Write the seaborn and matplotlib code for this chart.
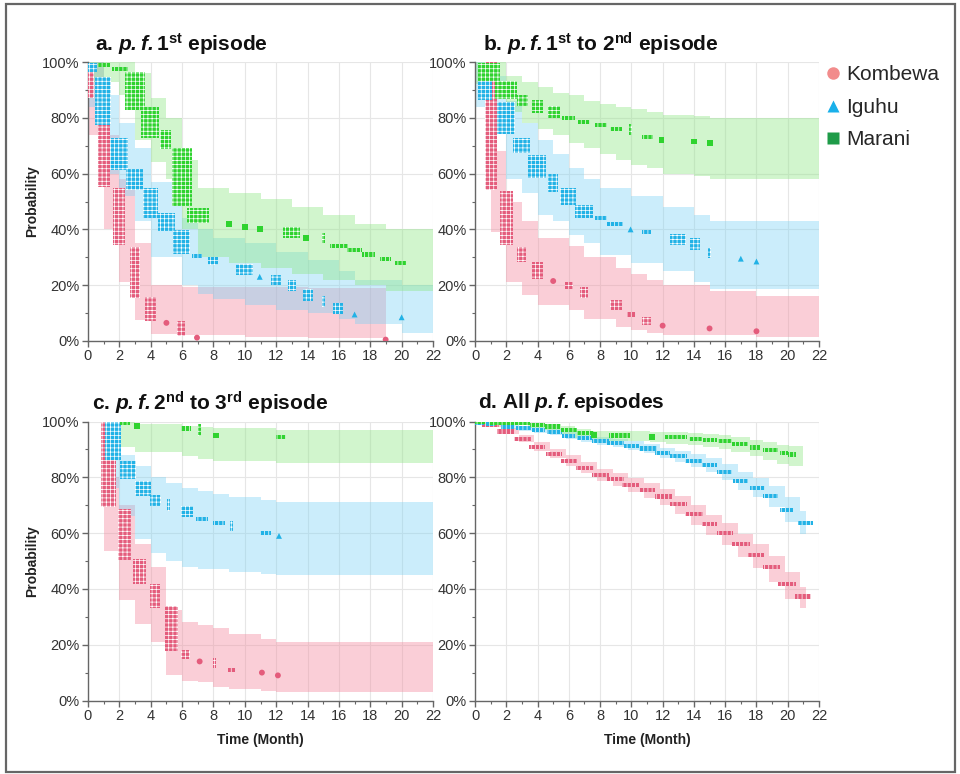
import matplotlib
matplotlib.use("Agg")
import matplotlib.pyplot as plt
import numpy as np
import pandas as pd
import seaborn as sns
from matplotlib.patches import Rectangle
from matplotlib.lines import Line2D
from matplotlib.ticker import MultipleLocator, FixedLocator, FixedFormatter

# ---------------- data ----------------
SITES = ["Kombewa", "Iguhu", "Marani"]
PANEL_TITLES = [
    r"a. $\mathbfit{p.f.}$$\mathbf{1^{st}}$ episode",
    r"b. $\mathbfit{p.f.}$$\mathbf{1^{st}}$ to $\mathbf{2^{nd}}$ episode",
    r"c. $\mathbfit{p.f.}$$\mathbf{2^{nd}}$ to $\mathbf{3^{rd}}$ episode",
    r"d. All $\mathbfit{p.f.}$episodes",
]
X_TICKS = [0, 2, 4, 6, 8, 10, 12, 14, 16, 18, 20, 22]
Y_TICKS = [0, 20, 40, 60, 80, 100]
Y_TICK_LABELS = ["0%", "20%", "40%", "60%", "80%", "100%"]
X_LABEL = "Time (Month)"
Y_LABEL = "Probability"

# marker clusters: (time start, time end, survival high %, survival low %)
A_KOMBEWA = [(0.0, 0.3, 99, 88), (0.74, 1.28, 86, 56), (1.70, 2.23, 54, 35), (2.76, 3.19, 33, 16),
             (3.72, 4.25, 15, 8), (5.0, 5.0, 6.5, 6.5), (5.8, 6.1, 6.5, 2.5), (6.95, 6.95, 1.2, 1.2),
             (18.98, 18.98, 0.5, 0.5)]
A_IGUHU = [(0.13, 0.45, 99, 97), (0.53, 1.38, 94, 78), (1.49, 2.44, 72, 62), (2.55, 3.40, 61, 55),
           (3.61, 4.36, 54, 45), (4.57, 5.42, 45, 40), (5.53, 6.38, 39, 32), (6.7, 7.2, 30.5, 30.5),
           (7.75, 8.2, 29.5, 28), (9.56, 10.4, 27, 24.5), (10.95, 10.95, 23, 23), (11.8, 12.2, 23, 21),
           (12.86, 13.18, 21, 18.5), (13.8, 14.24, 18, 15), (15.0, 15.0, 15.5, 13), (15.7, 16.15, 13, 10.5),
           (17.0, 17.0, 9.5, 9.5), (20.0, 20.0, 8.5, 8.5)]
A_MARANI = [(0.74, 1.28, 99, 99), (1.6, 2.44, 97.5, 97.5), (2.44, 3.55, 95.5, 83.5), (3.45, 4.45, 83, 73.5),
            (4.7, 5.2, 75, 69.5), (5.45, 6.55, 68.5, 49), (6.4, 7.6, 47, 43), (9.0, 9.0, 42, 42),
            (10.0, 10.0, 41, 41), (10.95, 10.95, 40, 40), (12.54, 13.39, 40, 37.5), (13.92, 13.92, 37, 37),
            (15.0, 15.0, 38, 36), (15.5, 16.5, 34, 34), (16.6, 17.4, 32.5, 32.5), (17.6, 18.2, 31, 31),
            (18.7, 19.2, 29.5, 29.5), (19.7, 20.2, 28, 28)]

B_KOMBEWA = [(0.75, 1.28, 100, 55), (1.70, 2.34, 53, 35), (2.77, 3.19, 33, 29), (3.73, 4.26, 27.5, 23),
             (5.0, 5.0, 21.5, 21.5), (5.86, 6.18, 20.5, 19.5), (6.82, 7.14, 18.5, 16), (8.73, 9.27, 14, 12),
             (9.8, 10.22, 9.5, 9.5), (10.8, 11.14, 8, 6.5), (12.0, 12.0, 5.5, 5.5), (15.0, 15.0, 4.5, 4.5),
             (18.0, 18.0, 3.5, 3.5)]
B_IGUHU = [(0.32, 0.96, 98, 87), (1.49, 2.45, 85, 75), (2.56, 3.41, 72, 68), (3.51, 4.47, 66, 59),
           (4.79, 5.22, 59, 54), (5.54, 6.39, 54, 49.5), (6.5, 7.45, 48, 45), (7.77, 8.31, 44, 44),
           (8.52, 9.37, 42, 42), (9.95, 9.95, 40, 40), (10.76, 11.18, 39, 39), (12.57, 13.42, 37.5, 35),
           (13.84, 14.27, 36, 33.5), (14.97, 14.97, 32.5, 30.5), (17.0, 17.0, 29.5, 29.5), (18.0, 18.0, 28.5, 28.5)]
B_MARANI = [(0.32, 1.49, 99, 94), (1.38, 2.56, 92.5, 87.5), (2.77, 3.30, 87.5, 85), (3.73, 4.26, 85.5, 82.5),
            (4.79, 5.32, 83.5, 80.5), (5.64, 6.28, 80, 80), (6.71, 7.24, 78.5, 78.5), (7.77, 8.31, 77.5, 77.5),
            (8.73, 9.27, 76, 76), (9.95, 9.95, 77, 74.5), (10.76, 11.29, 73, 73), (11.93, 11.93, 72, 72),
            (13.99, 13.99, 71.5, 71.5), (15.02, 15.02, 71, 71)]

C_KOMBEWA = [(0.96, 1.70, 100, 70), (2.02, 2.66, 68, 51), (2.98, 3.61, 50, 42.5), (4.04, 4.46, 41, 34),
             (5.0, 5.63, 33, 18.5), (6.01, 6.38, 17.5, 15.5), (7.12, 7.12, 14, 14), (8.08, 8.08, 14.5, 12.5),
             (9.03, 9.35, 11, 11), (11.09, 11.09, 10, 10), (12.11, 12.11, 9, 9)]
C_IGUHU = [(1.17, 2.02, 99, 87), (2.13, 2.98, 85, 80), (3.08, 3.93, 78, 74), (4.04, 4.57, 73, 70.5),
           (5.16, 5.16, 71.5, 68.5), (6.06, 6.59, 69, 66.5), (7.01, 7.54, 65, 65), (8.08, 8.61, 63.5, 63.5),
           (9.14, 9.14, 63.5, 61.5), (11.05, 11.58, 60, 60), (12.18, 12.18, 59, 59)]
C_MARANI = [(2.13, 2.55, 99.5, 99.5), (3.12, 3.12, 98.5, 98.5), (6.06, 6.48, 97.5, 97.5),
            (7.12, 7.12, 98.5, 95.5), (8.14, 8.14, 95, 95), (12.11, 12.54, 94.5, 94.5)]

D_KOMBEWA = [(0.0, 0.5, 99.7, 99.7), (0.57, 1.43, 98.6, 98.6), (1.53, 2.38, 96.4, 96.4), (2.6, 3.45, 93.8, 93.8),
             (3.55, 4.4, 91.0, 91.0), (4.62, 5.47, 88.4, 88.4), (5.57, 6.43, 85.9, 85.9), (6.53, 7.49, 83.4, 83.4),
             (7.6, 8.45, 80.8, 80.8), (8.55, 9.4, 79.3, 79.3), (9.51, 10.47, 77.1, 77.1), (10.57, 11.42, 75.5, 75.5),
             (11.63, 12.48, 73.1, 73.1), (12.59, 13.44, 70.4, 70.4), (13.55, 14.5, 66.8, 66.8),
             (14.6, 15.35, 63.2, 63.2), (15.56, 16.42, 60.0, 60.0), (16.52, 17.47, 56.2, 56.2),
             (17.58, 18.43, 52.2, 52.2), (18.54, 19.39, 47.8, 47.8), (19.5, 20.45, 41.8, 41.8),
             (20.56, 21.41, 37.3, 37.3)]
D_IGUHU = [(0.0, 0.5, 99.5, 99.5), (0.79, 1.21, 99.2, 99.2), (1.74, 2.38, 98.2, 98.2), (2.7, 3.45, 97.6, 97.6),
           (3.77, 4.4, 97.0, 97.0), (4.72, 5.47, 96.2, 96.2), (5.68, 6.32, 94.9, 94.9), (6.64, 7.38, 94.0, 94.0),
           (7.6, 8.45, 93.0, 93.0), (8.55, 9.4, 92.2, 92.2), (9.62, 10.36, 91.3, 91.3), (10.57, 11.52, 90.3, 90.3),
           (11.63, 12.37, 88.7, 88.7), (12.59, 13.44, 87.5, 87.5), (13.55, 14.39, 85.9, 85.9),
           (14.6, 15.35, 84.5, 84.5), (15.56, 16.31, 81.9, 81.9), (16.63, 17.37, 78.8, 78.8),
           (17.69, 18.43, 76.2, 76.2), (18.54, 19.29, 73.2, 73.2), (19.6, 20.24, 68.4, 68.4),
           (20.77, 21.52, 63.6, 63.6)]
D_MARANI = [(0.0, 0.6, 100, 100), (1.0, 1.7, 99.6, 99.6), (1.8, 3.4, 99.4, 99.4), (3.6, 4.4, 98.8, 98.8),
            (4.6, 5.4, 98.2, 98.2), (5.6, 6.4, 97.0, 97.0), (6.6, 7.5, 95.8, 95.8), (7.6, 7.6, 95.3, 95.3),
            (8.7, 9.8, 95.0, 95.0), (11.31, 11.31, 94.6, 94.6), (12.27, 13.44, 94.3, 94.3),
            (13.76, 14.39, 93.8, 93.8), (14.71, 15.35, 93.5, 93.5), (15.67, 16.31, 92.9, 92.9),
            (16.52, 17.37, 91.9, 91.9), (17.69, 18.11, 90.7, 90.7), (18.54, 19.29, 89.8, 89.8),
            (19.6, 19.92, 88.6, 88.6), (20.13, 20.45, 88.2, 88.2)]

# confidence bands: (step start time, lower %, upper %); last row marks the end
A_KOMBEWA_CI = [(0, 74, 100), (1, 40, 74), (2, 21, 58), (3, 7.5, 35), (4, 2.5, 20), (6, 2, 19.5),
                (10, 1.5, 19.5), (14, 1, 19), (19, 1, 19)]
A_IGUHU_CI = [(0, 84, 100), (1, 60, 88), (2, 52, 78), (3, 43, 69), (4, 30, 57), (6, 20, 44), (7, 17, 40),
              (8, 15, 37), (10, 13, 35), (12, 11, 32), (14, 10, 29), (16, 8, 25), (17, 6, 22), (20, 3, 20),
              (22, 3, 20)]
A_MARANI_CI = [(0, 93, 100), (2, 88, 100), (3, 72, 96), (4, 64, 87), (5, 58, 80), (6, 40, 65), (7, 30, 55),
               (9, 28, 53), (11, 26, 51), (13, 24, 48), (15, 22, 45), (17, 20, 42), (19, 18, 40), (22, 17, 40)]

B_KOMBEWA_CI = [(1, 39, 68), (2, 21, 50), (3, 16.5, 43), (4, 13, 37), (6, 11, 34), (7, 8, 30), (9, 5, 26),
                (10, 4, 24), (11, 3, 22), (12, 2, 20), (15, 2, 18), (18, 1.5, 16), (22, 1.5, 16)]
B_IGUHU_CI = [(0, 84, 100), (1, 76, 95), (2, 58, 86), (3, 53, 78), (4, 45, 72), (5, 43, 67), (6, 38, 62),
              (7, 35, 58), (8, 31, 55), (10, 28, 52), (12, 25, 48), (14, 21, 45), (15, 18.5, 43), (22, 18.5, 43)]
B_MARANI_CI = [(0, 92, 100), (1, 88, 100), (2, 82, 95), (3, 78, 93), (4, 76, 91), (5, 74, 89), (6, 71, 88),
               (7, 69, 86), (8, 67, 85), (9, 65, 84), (10, 63, 83), (11, 62, 82), (12, 60, 81), (14, 59, 80.5),
               (15, 58, 80), (22, 58, 80)]

C_KOMBEWA_CI = [(1.0, 53.5, 80), (2.0, 36, 70), (3.0, 27.5, 56), (4.0, 21, 48), (5.0, 9, 32.5), (6.0, 7, 28),
                (7.0, 6.5, 27), (8.0, 5, 26), (9.0, 4, 24), (11.0, 3.5, 22), (12.0, 3, 21), (22, 3, 21)]
C_IGUHU_CI = [(1.2, 76, 100), (2.0, 66, 88), (3.0, 58, 84), (4.0, 53, 80), (5.0, 50, 78), (6.0, 48, 76),
              (7.0, 47, 75), (8.0, 47, 74), (9.0, 46, 73), (11.0, 45.5, 72), (12.0, 45, 71), (22, 45, 71)]
C_MARANI_CI = [(1.9, 91, 100), (3.0, 89, 99), (6.0, 87.5, 98.5), (7.0, 86.5, 98), (8.0, 86, 97.5),
               (12.0, 85, 97), (22, 85, 97)]

D_KOMBEWA_CI = [(0, 99.2, 100), (0.8, 97.9, 99.3), (1.8, 95.4, 97.6), (2.8, 92.6, 95.2), (3.8, 89.6, 92.6),
                (4.8, 86.8, 90.2), (5.8, 84.1, 87.9), (6.8, 81.4, 85.5), (7.8, 78.7, 83.1), (8.8, 77.0, 81.7),
                (9.8, 74.7, 79.6), (10.8, 72.7, 78.1), (11.8, 70.0, 75.8), (12.8, 66.9, 73.2), (13.8, 63.0, 69.9),
                (14.8, 59.2, 66.6), (15.8, 55.8, 63.5), (16.8, 51.6, 59.8), (17.8, 47.4, 56.0), (18.8, 42.6, 51.9),
                (19.8, 36.4, 46.2), (20.8, 33.0, 40.8), (21.2, 33.0, 40.8)]
D_IGUHU_CI = [(0, 99.0, 100), (0.8, 98.8, 99.8), (1.8, 97.4, 99.0), (2.8, 96.7, 98.5), (3.8, 96.0, 98.0),
              (4.8, 95.1, 97.3), (5.8, 93.7, 96.1), (6.8, 92.7, 95.3), (7.8, 91.6, 94.4), (8.8, 90.7, 93.7),
              (9.8, 89.7, 92.9), (10.8, 88.6, 92.0), (11.8, 86.8, 90.6), (12.8, 85.4, 89.6), (13.8, 83.6, 88.2),
              (14.8, 82.0, 87.0), (15.8, 79.0, 84.8), (16.8, 75.6, 82.0), (17.8, 72.8, 79.6), (18.8, 69.4, 77.0),
              (19.8, 64.0, 72.8), (20.8, 59.5, 68.0), (21.2, 59.5, 68.0)]
D_MARANI_CI = [(0, 99.5, 100), (0.8, 99.0, 100), (1.8, 98.6, 100), (3.4, 97.8, 99.6), (4.4, 97.0, 99.2),
               (5.4, 95.6, 98.3), (6.4, 94.2, 97.3), (7.4, 93.3, 96.7), (8.6, 93.0, 96.6), (11.2, 92.5, 96.3),
               (12.2, 92.1, 96.1), (13.6, 91.5, 95.8), (14.6, 91.0, 95.5), (15.6, 90.2, 95.0), (16.4, 89.0, 94.3),
               (17.6, 87.5, 93.4), (18.4, 86.2, 92.7), (19.3, 84.6, 91.5), (20.1, 84.0, 91.2), (21.0, 84.0, 91.2)]

PANELS = [
    {"Kombewa": (A_KOMBEWA, A_KOMBEWA_CI), "Iguhu": (A_IGUHU, A_IGUHU_CI), "Marani": (A_MARANI, A_MARANI_CI)},
    {"Kombewa": (B_KOMBEWA, B_KOMBEWA_CI), "Iguhu": (B_IGUHU, B_IGUHU_CI), "Marani": (B_MARANI, B_MARANI_CI)},
    {"Kombewa": (C_KOMBEWA, C_KOMBEWA_CI), "Iguhu": (C_IGUHU, C_IGUHU_CI), "Marani": (C_MARANI, C_MARANI_CI)},
    {"Kombewa": (D_KOMBEWA, D_KOMBEWA_CI), "Iguhu": (D_IGUHU, D_IGUHU_CI), "Marani": (D_MARANI, D_MARANI_CI)},
]

# ---------------- style ----------------
MARK_COLORS = {"Kombewa": "#e45c7c", "Iguhu": "#22b2e6", "Marani": "#2fd32f"}
BAND_COLORS = {"Kombewa": ("#f48ca0", 0.42), "Iguhu": ("#78d2f5", 0.38), "Marani": ("#8ce682", 0.40)}
LEGEND_COLORS = {"Kombewa": "#f28c8c", "Iguhu": "#19b0ea", "Marani": "#1e9b48"}
MARKERS = {"Kombewa": "o", "Iguhu": "^", "Marani": "s"}

sns.set_theme(style="white")
plt.rcParams["font.family"] = ["Liberation Sans", "DejaVu Sans"]
plt.rcParams["mathtext.fontset"] = "custom"
plt.rcParams["mathtext.rm"] = "Liberation Sans"
plt.rcParams["mathtext.it"] = "Liberation Sans:italic"
plt.rcParams["mathtext.bf"] = "Liberation Sans:bold"
plt.rcParams["mathtext.bfit"] = "Liberation Sans:bold:italic"
plt.rcParams["hatch.linewidth"] = 0.5

W, H = 960, 774
fig = plt.figure(figsize=(9.6, 7.74), dpi=100)
fig.patch.set_facecolor("white")

AX_BOXES = [(88, 62, 433, 341), (475, 62, 819, 341), (88, 421.5, 433, 700.5), (475, 421.5, 819, 700.5)]
TITLE_POS = [(95, 44), (483, 44), (92, 403), (478, 403)]

MW, MH = 0.2, 1.5  # marker footprint in data units (months, %)

for i, (box, panel) in enumerate(zip(AX_BOXES, PANELS)):
    x0, y0, x1, y1 = box
    ax = fig.add_axes([x0 / W, 1 - y1 / H, (x1 - x0) / W, (y1 - y0) / H])
    ax.set_facecolor("white")
    ax.xaxis.set_major_locator(FixedLocator(X_TICKS))
    ax.xaxis.set_minor_locator(MultipleLocator(1))
    ax.yaxis.set_major_locator(FixedLocator(Y_TICKS))
    ax.yaxis.set_major_formatter(FixedFormatter(Y_TICK_LABELS))
    ax.yaxis.set_minor_locator(MultipleLocator(10))
    ax.grid(True, which="major", color="#e6e6e6", linewidth=0.8, zorder=0)
    ax.set_axisbelow(True)
    for s in ["top", "right"]:
        ax.spines[s].set_visible(False)
    for s in ["left", "bottom"]:
        ax.spines[s].set_color("#666666")
        ax.spines[s].set_linewidth(1.0)
    ax.tick_params(which="major", direction="out", length=4, width=1, color="#666666",
                   labelsize=10.5, labelcolor="#333333", pad=2, left=True, bottom=True)
    ax.tick_params(which="minor", direction="out", length=2.5, width=0.8, color="#666666", left=True, bottom=True)

    # confidence bands
    for site in SITES:
        bdf = pd.DataFrame(panel[site][1], columns=["t", "lo", "hi"])
        col, al = BAND_COLORS[site]
        ax.fill_between(bdf["t"], bdf["lo"], bdf["hi"], step="post", color=col, alpha=al,
                        linewidth=0, zorder=1)

    # stacked event markers
    singles = []
    for site in SITES:
        cdf = pd.DataFrame(panel[site][0], columns=["t0", "t1", "hi", "lo"])
        for _, r in cdf.iterrows():
            if r.t0 == r.t1 and r.hi == r.lo:
                singles.append({"t": r.t0, "s": r.hi, "site": site})
            else:
                hatch = "||||" if r.hi == r.lo else "++++"
                ax.add_patch(Rectangle((r.t0 - MW / 2, r.lo - MH / 2), r.t1 - r.t0 + MW, r.hi - r.lo + MH,
                                       facecolor=MARK_COLORS[site], edgecolor="white", linewidth=0,
                                       hatch=hatch, zorder=3))
    if singles:
        sdf = pd.DataFrame(singles)
        sns.scatterplot(data=sdf, x="t", y="s", hue="site", style="site", palette=MARK_COLORS,
                        markers=MARKERS, s=18, edgecolor="none", legend=False, ax=ax, zorder=4)
    ax.set_xlabel("")
    ax.set_ylabel("")
    ax.set_xlim(0, 22)
    ax.set_ylim(0, 100)

    fig.text(TITLE_POS[i][0] / W, 1 - TITLE_POS[i][1] / H, PANEL_TITLES[i], fontsize=15,
             fontweight="bold", ha="left", va="center", color="#111111")

# axis labels
for yc in [(62 + 341) / 2, (421.5 + 700.5) / 2]:
    fig.text(32 / W, 1 - yc / H, Y_LABEL, rotation=90, fontsize=10, fontweight="bold",
             ha="center", va="center", color="#222222")
for xc in [(88 + 433) / 2, (475 + 819) / 2]:
    fig.text(xc / W, 1 - 740 / H, X_LABEL, fontsize=10, fontweight="bold",
             ha="center", va="center", color="#222222")

# legend
handles = [Line2D([], [], linestyle="none", marker=MARKERS[s], markersize=9,
                  markerfacecolor=LEGEND_COLORS[s], markeredgecolor="none") for s in SITES]
fig.legend(handles, SITES, loc="upper left", bbox_to_anchor=(814 / W, 1 - 57 / H), frameon=False,
           fontsize=15, handletextpad=0.15, labelspacing=0.65, handlelength=1.0, borderaxespad=0)

# outer frame
fig.add_artist(Rectangle((6 / W, 1 - 772 / H), (955 - 6) / W, (772 - 4) / H, transform=fig.transFigure,
                         fill=False, edgecolor="#666666", linewidth=1.6))

fig.savefig("out.png", dpi=100)
